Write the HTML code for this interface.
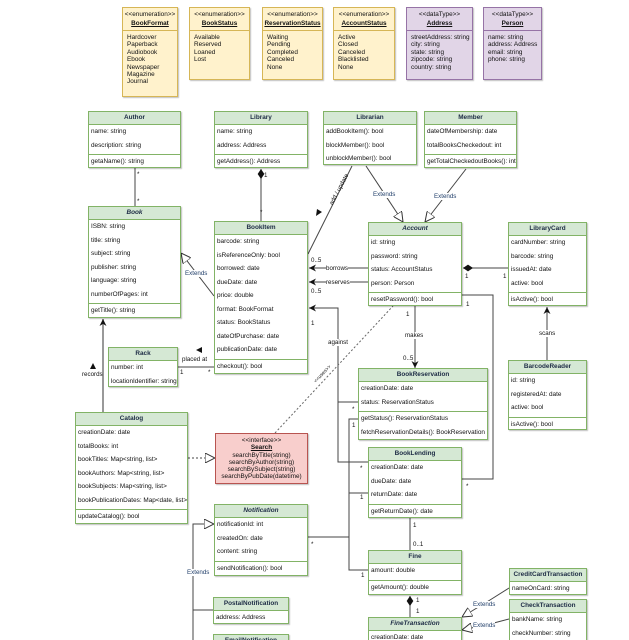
<!DOCTYPE html>
<html><head><meta charset="utf-8"><style>
*{margin:0;padding:0;box-sizing:border-box}
html{width:629px;height:640px;overflow:hidden}
body{width:629px;height:640px;background:#fff;position:relative;overflow:hidden;font-family:"Liberation Sans",sans-serif;font-size:6.4px;color:#111}
.c{position:absolute;background:#fff;border:1px solid #82b366;box-shadow:1px 1px 1px rgba(0,0,0,.25)}
.h{height:13px;line-height:12px;background:#d5e8d4;border-bottom:1px solid #82b366;text-align:center;font-weight:bold;color:#1c2a44}
.i{font-style:italic}
.r{height:13.5px;line-height:13.5px;padding-left:2px;white-space:nowrap}
.s{border-top:1px solid #82b366;margin-top:2px}
.e{position:absolute;background:#fff2cc;border:1px solid #d6b656;box-shadow:1px 1px 1px rgba(0,0,0,.25);font-size:6.4px}
.d{background:#e1d5e7;border-color:#9673a6}
.e .st{text-align:center;margin-top:3px;line-height:8px}
.e .nm{text-align:center;font-weight:bold;text-decoration:underline;line-height:9px;border-bottom:1px solid #d6b656;padding-bottom:2px}
.d .nm{border-color:#9673a6}
.e .it{padding:3px 0 0 4px;line-height:7.4px}
.l{position:absolute;font-size:6.2px;white-space:nowrap;background:#fff;line-height:7px}
.n{position:absolute;font-size:6.2px;line-height:7px}
.x{color:#23406b}
svg{position:absolute;left:0;top:0}
</style></head><body>
<svg width="629" height="640" viewBox="0 0 629 640">
<defs>
<marker id="tri" viewBox="0 0 10 10" refX="10" refY="5" markerWidth="10" markerHeight="10" orient="auto" markerUnits="userSpaceOnUse"><path d="M0,0 L10,5 L0,10 z" fill="#fff" stroke="#333"/></marker>
<marker id="arr" viewBox="0 0 10 10" refX="10" refY="5" markerWidth="7" markerHeight="7" orient="auto" markerUnits="userSpaceOnUse"><path d="M0,0 L10,5 L0,10 L3,5 z" fill="#111"/></marker>
<marker id="dia" viewBox="0 0 12 8" refX="0" refY="4" markerWidth="10" markerHeight="7" orient="auto" markerUnits="userSpaceOnUse"><path d="M0,4 L6,0 L12,4 L6,8 z" fill="#111"/></marker>
</defs>
<g stroke="#444" stroke-width="1" fill="none">
<line x1="135" y1="168" x2="135" y2="206"/>
<line x1="261" y1="169" x2="261" y2="221" marker-start="url(#dia)"/>
<line x1="214" y1="296" x2="181" y2="253" marker-end="url(#tri)"/>
<line x1="352" y1="166" x2="308" y2="254"/>
<line x1="366" y1="166" x2="403" y2="222" marker-end="url(#tri)"/>
<line x1="466" y1="169" x2="425" y2="222" marker-end="url(#tri)"/>
<line x1="368" y1="268" x2="309" y2="268" marker-end="url(#arr)"/>
<line x1="368" y1="282" x2="309" y2="282" marker-end="url(#arr)"/>
<line x1="463" y1="268" x2="508" y2="268" marker-start="url(#dia)"/>
<polyline points="462,295 493,295 493,479 462,479"/>
<line x1="415" y1="306" x2="415" y2="368" marker-end="url(#arr)"/>
<line x1="547" y1="360" x2="547" y2="307" marker-end="url(#arr)"/>
<polyline points="358,402 338,402 338,308 309,308" marker-end="url(#arr)"/>
<polyline points="338,402 338,462 368,462"/>
<polyline points="358,419 349,419 349,570 368,570"/>
<line x1="349" y1="493" x2="368" y2="493"/>
<line x1="308" y1="537" x2="349" y2="537"/>
<line x1="410" y1="518" x2="410" y2="550"/>
<line x1="410" y1="596" x2="410" y2="617" marker-start="url(#dia)"/>
<polyline points="509,588 490,600 462,617" marker-end="url(#tri)"/>
<polyline points="509,619 490,624 462,630" marker-end="url(#tri)"/>
<polyline points="213,610 193,610 193,640"/>
<polyline points="193,610 193,524 214,524" marker-end="url(#tri)"/>
<line x1="188" y1="458" x2="215" y2="458" stroke-dasharray="2,2" marker-end="url(#tri)"/>
<line x1="275" y1="433" x2="393" y2="306" stroke-dasharray="2,2" stroke="#666"/>
<line x1="103" y1="412" x2="103" y2="319" marker-end="url(#arr)" stroke="#777" stroke-width="1.5"/>
<line x1="178" y1="367" x2="214" y2="367"/>
</g>
<path d="M93,363 L96,369 L90,369z" fill="#111"/>
<path d="M196,350 L202,347 L202,353z" fill="#111"/>
<path d="M317,209 L322,212 L316,216z" fill="#111"/>
</svg>

<div class="e" style="left:122px;top:7px;width:56px;height:90px"><div class="st">&lt;&lt;enumeration&gt;&gt;</div><div class="nm">BookFormat</div><div class="it">Hardcover<br>Paperback<br>Audiobook<br>Ebook<br>Newspaper<br>Magazine<br>Journal</div></div>
<div class="e" style="left:189px;top:7px;width:61px;height:73px"><div class="st">&lt;&lt;enumeration&gt;&gt;</div><div class="nm">BookStatus</div><div class="it">Available<br>Reserved<br>Loaned<br>Lost</div></div>
<div class="e" style="left:262px;top:7px;width:61px;height:73px"><div class="st">&lt;&lt;enumeration&gt;&gt;</div><div class="nm">ReservationStatus</div><div class="it">Waiting<br>Pending<br>Completed<br>Canceled<br>None</div></div>
<div class="e" style="left:333px;top:7px;width:62px;height:73px"><div class="st">&lt;&lt;enumeration&gt;&gt;</div><div class="nm">AccountStatus</div><div class="it">Active<br>Closed<br>Canceled<br>Blacklisted<br>None</div></div>
<div class="e d" style="left:406px;top:7px;width:67px;height:73px"><div class="st">&lt;&lt;dataType&gt;&gt;</div><div class="nm">Address</div><div class="it">streetAddress: string<br>city: string<br>state: string<br>zipcode: string<br>country: string</div></div>
<div class="e d" style="left:483px;top:7px;width:59px;height:73px"><div class="st">&lt;&lt;dataType&gt;&gt;</div><div class="nm">Person</div><div class="it">name: string<br>address: Address<br>email: string<br>phone: string</div></div>

<div class="c" style="left:88px;top:111px;width:93px;height:57px"><div class="h">Author</div><div class="r">name: string</div><div class="r">description: string</div><div class="s"></div><div class="r">getaName(): string</div></div>
<div class="c" style="left:214px;top:111px;width:94px;height:57px"><div class="h">Library</div><div class="r">name: string</div><div class="r">address: Address</div><div class="s"></div><div class="r">getAddress(): Address</div></div>
<div class="c" style="left:323px;top:111px;width:94px;height:54px"><div class="h">Librarian</div><div class="r">addBookItem(): bool</div><div class="r">blockMember(): bool</div><div class="r">unblockMember(): bool</div></div>
<div class="c" style="left:424px;top:111px;width:93px;height:57px"><div class="h">Member</div><div class="r">dateOfMembership: date</div><div class="r">totalBooksCheckedout: int</div><div class="s"></div><div class="r">getTotalCheckedoutBooks(): int</div></div>
<div class="c" style="left:88px;top:206px;width:93px;height:112px"><div class="h i">Book</div><div class="r">ISBN: string</div><div class="r">title: string</div><div class="r">subject: string</div><div class="r">publisher: string</div><div class="r">language: string</div><div class="r">numberOfPages: int</div><div class="s"></div><div class="r">getTitle(): string</div></div>
<div class="c" style="left:214px;top:221px;width:94px;height:153px"><div class="h">BookItem</div><div class="r">barcode: string</div><div class="r">isReferenceOnly: bool</div><div class="r">borrowed: date</div><div class="r">dueDate: date</div><div class="r">price: double</div><div class="r">format: BookFormat</div><div class="r">status: BookStatus</div><div class="r">dateOfPurchase: date</div><div class="r">publicationDate: date</div><div class="s"></div><div class="r">checkout(): bool</div></div>
<div class="c" style="left:368px;top:222px;width:94px;height:84px"><div class="h i">Account</div><div class="r">id: string</div><div class="r">password: string</div><div class="r">status: AccountStatus</div><div class="r">person: Person</div><div class="s"></div><div class="r">resetPassword(): bool</div></div>
<div class="c" style="left:508px;top:222px;width:79px;height:84px"><div class="h">LibraryCard</div><div class="r">cardNumber: string</div><div class="r">barcode: string</div><div class="r">issuedAt: date</div><div class="r">active: bool</div><div class="s"></div><div class="r">isActive(): bool</div></div>
<div class="c" style="left:108px;top:347px;width:70px;height:40px"><div class="h">Rack</div><div class="r">number: int</div><div class="r">locationIdentifier: string</div></div>
<div class="c" style="left:508px;top:360px;width:79px;height:70px"><div class="h">BarcodeReader</div><div class="r">id: string</div><div class="r">registeredAt: date</div><div class="r">active: bool</div><div class="s"></div><div class="r">isActive(): bool</div></div>
<div class="c" style="left:358px;top:368px;width:130px;height:72px"><div class="h">BookReservation</div><div class="r">creationDate: date</div><div class="r">status: ReservationStatus</div><div class="s"></div><div class="r">getStatus(): ReservationStatus</div><div class="r">fetchReservationDetails(): BookReservation</div></div>
<div class="c" style="left:75px;top:412px;width:113px;height:112px"><div class="h">Catalog</div><div class="r">creationDate: date</div><div class="r">totalBooks: int</div><div class="r">bookTitles: Map&lt;string, list&gt;</div><div class="r">bookAuthors: Map&lt;string, list&gt;</div><div class="r">bookSubjects: Map&lt;string, list&gt;</div><div class="r">bookPublicationDates: Map&lt;date, list&gt;</div><div class="s"></div><div class="r">updateCatalog(): bool</div></div>
<div style="position:absolute;left:215px;top:433px;width:93px;height:51px;background:#f8cecc;border:1px solid #b85450;text-align:center;line-height:7.3px;padding-top:3px;box-shadow:1px 1px 1px rgba(0,0,0,.25)">&lt;&lt;interface&gt;&gt;<br><b style="text-decoration:underline">Search</b><br>searchByTitle(string)<br>searchByAuthor(string)<br>searchBySubject(string)<br>searchByPubDate(datetime)</div>
<div class="c" style="left:368px;top:447px;width:94px;height:71px"><div class="h">BookLending</div><div class="r">creationDate: date</div><div class="r">dueDate: date</div><div class="r">returnDate: date</div><div class="s"></div><div class="r">getReturnDate(): date</div></div>
<div class="c" style="left:214px;top:504px;width:94px;height:72px"><div class="h i">Notification</div><div class="r">notificationId: int</div><div class="r">createdOn: date</div><div class="r">content: string</div><div class="s"></div><div class="r">sendNotification(): bool</div></div>
<div class="c" style="left:368px;top:550px;width:94px;height:45px"><div class="h">Fine</div><div class="r">amount: double</div><div class="s"></div><div class="r">getAmount(): double</div></div>
<div class="c" style="left:509px;top:568px;width:78px;height:27px"><div class="h">CreditCardTransaction</div><div class="r">nameOnCard: string</div></div>
<div class="c" style="left:213px;top:597px;width:76px;height:27px"><div class="h">PostalNotification</div><div class="r">address: Address</div></div>
<div class="c" style="left:509px;top:599px;width:78px;height:45px"><div class="h">CheckTransaction</div><div class="r">bankName: string</div><div class="r">checkNumber: string</div></div>
<div class="c" style="left:368px;top:617px;width:94px;height:30px"><div class="h i">FineTransaction</div><div class="r">creationDate: date</div></div>
<div class="c" style="left:213px;top:634px;width:76px;height:20px"><div class="h">EmailNotification</div></div>

<div class="n" style="left:137px;top:171px">*</div><div class="n" style="left:137px;top:198px">*</div>
<div class="n" style="left:264px;top:172px">1</div><div class="n" style="left:260px;top:209px">*</div>
<div class="l x" style="left:185px;top:270px">Extends</div>
<div class="l" style="left:322px;top:186px;transform:rotate(-62deg);background:none">add / update</div>
<div class="l x" style="left:373px;top:191px">Extends</div>
<div class="l x" style="left:434px;top:193px">Extends</div>
<div class="n" style="left:311px;top:257px">0..5</div>
<div class="l" style="left:326px;top:265px">borrows</div>
<div class="l" style="left:326px;top:279px">reserves</div>
<div class="n" style="left:311px;top:288px">0..5</div>
<div class="n" style="left:465px;top:273px">1</div><div class="n" style="left:503px;top:273px">1</div>
<div class="n" style="left:466px;top:301px">1</div>
<div class="n" style="left:311px;top:320px">1</div>
<div class="l" style="left:328px;top:339px">against</div>
<div class="n" style="left:406px;top:311px">1</div>
<div class="l" style="left:405px;top:332px">makes</div>
<div class="n" style="left:403px;top:355px">0..5</div>
<div class="l" style="left:539px;top:330px">scans</div>
<div class="l" style="left:312px;top:371px;transform:rotate(-47deg);font-size:5px">&lt;&lt;uses&gt;&gt;</div>
<div class="n" style="left:82px;top:371px">records</div>
<div class="n" style="left:182px;top:356px;background:#fff">placed at</div>
<div class="n" style="left:180px;top:369px">1</div><div class="n" style="left:208px;top:369px">*</div>
<div class="n" style="left:352px;top:406px">*</div>
<div class="n" style="left:352px;top:422px">1</div>
<div class="n" style="left:360px;top:465px">*</div>
<div class="n" style="left:360px;top:494px">1</div>
<div class="n" style="left:466px;top:483px">*</div>
<div class="n" style="left:413px;top:522px">1</div>
<div class="n" style="left:413px;top:541px">0..1</div>
<div class="n" style="left:311px;top:541px">*</div>
<div class="n" style="left:361px;top:572px">1</div>
<div class="n" style="left:416px;top:597px">1</div><div class="n" style="left:416px;top:608px">1</div>
<div class="l x" style="left:473px;top:601px">Extends</div>
<div class="l x" style="left:473px;top:622px">Extends</div>
<div class="l x" style="left:187px;top:569px">Extends</div>
</body></html>
